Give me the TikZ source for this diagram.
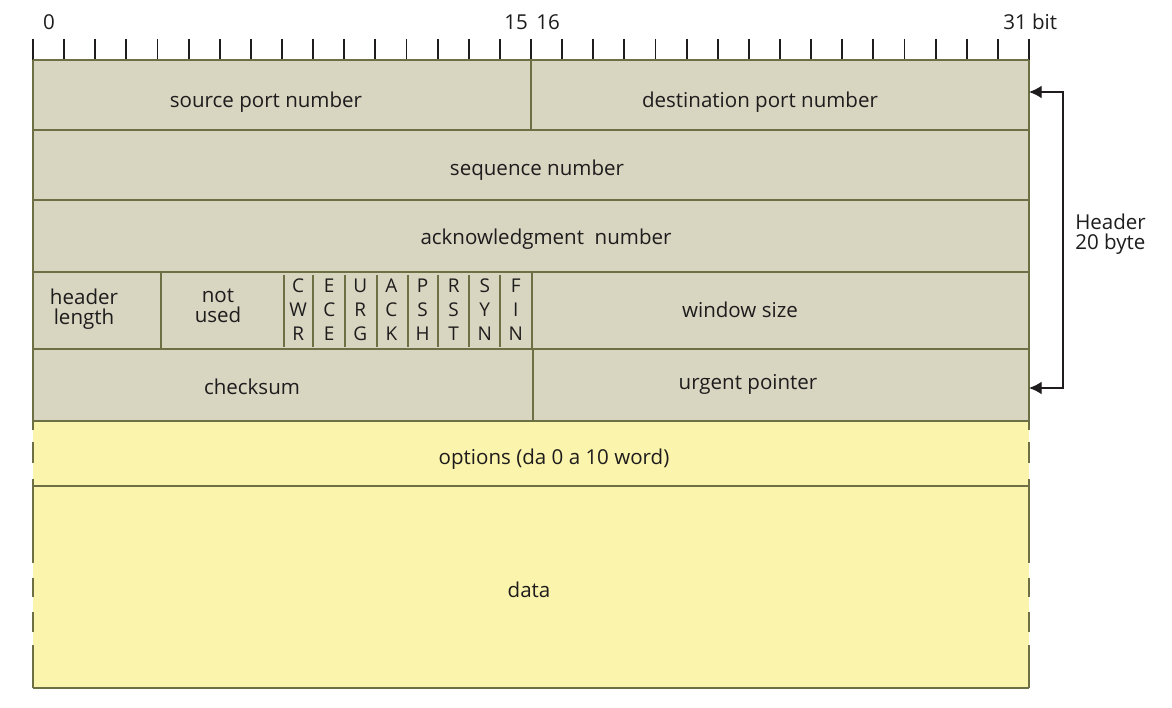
\documentclass[tikz,border=0pt]{standalone}
\usepackage{fontspec}
\setmainfont{Open Sans}
\usepackage{xcolor}
\definecolor{hdrfill}{RGB}{216,214,193}
\definecolor{optfill}{RGB}{251,244,172}
\definecolor{ruleline}{RGB}{108,112,68}
\definecolor{ink}{RGB}{30,28,28}
\usetikzlibrary{arrows.meta}
\tikzset{>={Latex[length=9pt,width=9pt]}}

\begin{document}
\begin{tikzpicture}[x=0.025cm, y=-0.025cm,
  field/.style={ink, font=\fontsize{14.6}{14.5}\selectfont, align=center, inner sep=0pt},
  flag/.style={ink, font=\fontsize{13.5}{17}\selectfont, align=center, inner sep=0pt},
  boxline/.style={ruleline, line width=1.9pt}]

  \useasboundingbox (0,0) rectangle (1172,708);

  % fills
  \fill[hdrfill] (33,60) rectangle (1029,421);
  \fill[optfill] (33,421) rectangle (1029,688);

  % bit ruler
  \foreach \i in {0,...,32}
    \draw[ink, line width=1.3pt] ({33+\i*31.125},39) -- ({33+\i*31.125},60);
  \node[field] (bit0) at (49,22) {0};
  \node[field] (bit15) at (516,22) {15};
  \node[field] (bit16) at (548,22) {16};
  \node[field, anchor=west] (bit31) at (1003,22) {31 bit};

  % horizontal rules
  \foreach \y in {60,130,200,272,349,421,486,688}
    \draw[boxline] (33,\y) -- (1029,\y);

  % sides: solid for the header, broken for options and data
  \draw[boxline] (33,60) -- (33,421) (1029,60) -- (1029,421);
  \foreach \a/\b in {421/430, 442/463, 479/563, 578/597, 612/632, 645/688} {
    \draw[boxline] (33,\a) -- (33,\b);
    \draw[boxline] (1029,\a) -- (1029,\b);
  }

  % vertical dividers
  \draw[boxline] (531,60) -- (531,130);
  \draw[boxline] (533,349) -- (533,421);
  \draw[boxline] (161,272) -- (161,349);
  \foreach \x in {284,313,345,377,408,438,469,500}
    \draw[boxline] (\x,275) -- (\x,347);
  \draw[boxline] (532,272) -- (532,349);

  % field names
  \node[field] (srcport) at (266,102) {source port number};
  \node[field] (dstport) at (760,102) {destination port number};
  \node[field] (seqnum) at (537,170) {sequence number};
  \node[field] (acknum) at (546,239) {acknowledgment\ \ number};
  \node[field] (hdrlen) at (84,309) {header\\length};
  \node[field] (notused) at (218,306) {not\\used};
  \foreach \a/\b/\c [count=\k] in {C/W/R, E/C/E, U/R/G, A/C/K, P/S/H, R/S/T, S/Y/N, F/I/N}
    \node[flag] (flag\k) at ({282.6+(\k-0.5)*31.1},310) {\a\\\b\\\c};
  \node[field] (window) at (740,310) {window size};
  \node[field] (checksum) at (252,387) {checksum};
  \node[field] (urgent) at (748,384) {urgent pointer};
  \node[field] (options) at (554,459) {options (da 0 a 10 word)};
  \node[field] (data) at (529,590) {data};

  % header size
  \coordinate (hdrtop) at (1029,92);
  \coordinate (hdrbot) at (1029,388);
  \coordinate (cornertop) at (1063,92);
  \coordinate (cornerbot) at (1063,388);
  \draw[ink, line width=0.9pt, <->] (hdrtop) -- (cornertop) -- (cornerbot) -- (hdrbot);
  \node[field, anchor=west, align=left] (hdrsize) at (1075,234) {Header\\20 byte};

\end{tikzpicture}
\end{document}
